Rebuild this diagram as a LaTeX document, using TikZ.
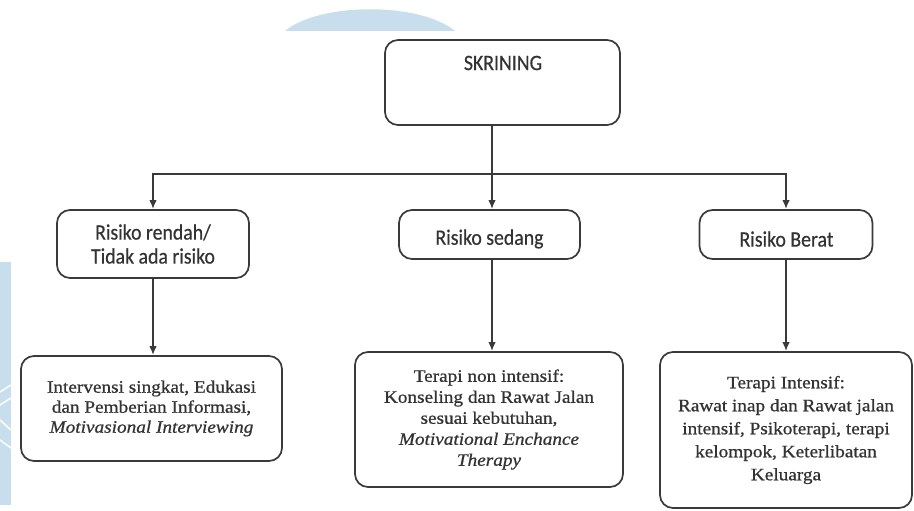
\documentclass[tikz,border=0pt]{standalone}
\usepackage{fontspec}
\setmainfont[FakeStretch=1.1,FakeBold=0.8]{Liberation Serif}
\newfontfamily\calibrifont[FakeStretch=0.9,FakeBold=0.5]{Carlito}
\usetikzlibrary{arrows.meta}
\definecolor{ln}{HTML}{3A3A3A}
\definecolor{tx}{HTML}{333333}
\definecolor{wm}{HTML}{C8DEEC}
\begin{document}
\begin{tikzpicture}[x=1pt,y=-1pt,
  box/.style={draw=ln, line width=1.7pt, rounded corners=13pt, inner sep=0pt, align=center, text=tx},
  stext/.style={font=\calibrifont\fontsize{22}{24}\selectfont, text=tx, align=center, inner sep=0pt},
  sbox/.style={box, font=\calibrifont\fontsize{22}{24}\selectfont},
  conn/.style={draw=ln, line width=1.8pt},
  arr/.style={conn, -{Latex[length=9pt,width=7.5pt]}}]
\useasboundingbox (0,0) rectangle (914,511);
% watermark
\fill[wm] (285,31) .. controls (320,2) and (420,2) .. (455,31) -- cycle;
\fill[wm] (0,262) rectangle (11,505);
\draw[white, line width=1.5pt] (0,392) -- (11,385) (0,405) -- (11,398) (0,420) -- (11,430) (0,440) -- (11,448);
% boxes
\node[box, minimum width=235pt, minimum height=85pt] (skr) at (502.5,82.5) {};
\node[stext] (skrt) at (503,63) {SKRINING};
\node[sbox, minimum width=192pt, minimum height=68pt] (low) at (153,244) {Risiko rendah/\\Tidak ada risiko};
\node[box, minimum width=181pt, minimum height=49pt] (mid) at (489.5,234.5) {};
\node[stext] (midt) at (489.5,239) {Risiko sedang};
\node[box, minimum width=173pt, minimum height=49pt] (high) at (786,234.5) {};
\node[stext] (hight) at (786.5,239) {Risiko Berat};
\node[box, font=\fontsize{17.5}{20}\selectfont, minimum width=261pt, minimum height=105pt] (t1) at (151.5,408.5)
  {Intervensi singkat, Edukasi\\dan Pemberian Informasi,\\\textit{Motivasional Interviewing}};
\node[box, font=\fontsize{17.5}{21}\selectfont, minimum width=268pt, minimum height=135pt] (t2) at (489,419.5)
  {Terapi non intensif:\\Konseling dan Rawat Jalan\\sesuai kebutuhan,\\\textit{Motivational Enchance}\\\textit{Therapy}};
\node[box, font=\fontsize{17.5}{23}\selectfont, minimum width=252pt, minimum height=156pt] (t3) at (786,430)
  {Terapi Intensif:\\Rawat inap dan Rawat jalan\\intensif, Psikoterapi, terapi\\kelompok, Keterlibatan\\Keluarga};
% connectors
\coordinate (bus) at (492,174);
\draw[conn] (skr.south -| bus) -- (bus);
\draw[arr] (bus) -| (low.north);
\draw[arr] (bus) -| (high.north);
\draw[arr] (bus) -- (mid.north -| bus);
\draw[arr] (low.south) -- (t1.north -| low.south);
\draw[arr] (mid.south -| bus) -- (t2.north -| bus);
\draw[arr] (high.south) -- (t3.north -| high.south);
\end{tikzpicture}
\end{document}
